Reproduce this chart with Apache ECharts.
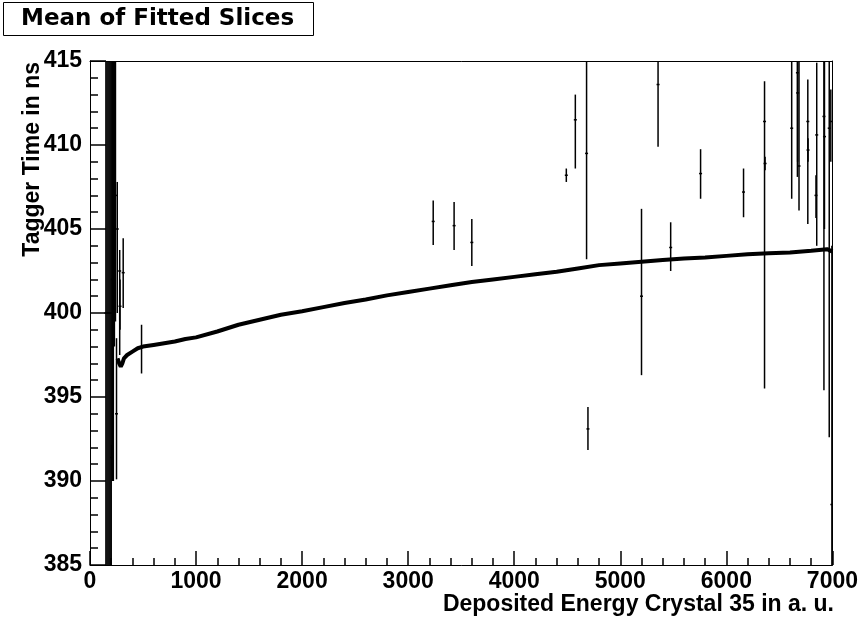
<!DOCTYPE html>
<html>
<head>
<meta charset="utf-8">
<script src="https://cdn.jsdelivr.net/npm/echarts@6/dist/echarts.min.js"></script>
<style>
  html, body { margin: 0; padding: 0; background: #fff; }
  #chart { width: 861px; height: 624px; }
</style>
</head>
<body>
<div id="chart"></div>
<script>
/* Mean of fitted slices: tagger time vs deposited energy (crystal 35).
   Values. */
const X_TICKS = [0, 1000, 2000, 3000, 4000, 5000, 6000, 7000];
const Y_TICKS = [385, 390, 395, 400, 405, 410, 415];

// main curve (energy, mean time)
const curveX = [260, 275, 290, 305, 320, 350, 400, 450, 500, 600, 700, 800, 900, 1000,
  1200, 1400, 1600, 1800, 2000, 2200, 2400, 2600, 2800, 3000, 3200, 3400, 3600, 3800,
  4000, 4200, 4400, 4600, 4800, 5000, 5200, 5400, 5600, 5800, 6000, 6200, 6400, 6600,
  6800, 6950, 7000];
const curveY = [397.3, 397.0, 396.8, 397.0, 397.3, 397.5, 397.7, 397.9, 398.0, 398.1,
  398.2, 398.3, 398.45, 398.55, 398.9, 399.3, 399.6, 399.9, 400.1, 400.35, 400.6, 400.8,
  401.05, 401.25, 401.45, 401.65, 401.85, 402.0, 402.15, 402.3, 402.45, 402.65, 402.85,
  402.95, 403.05, 403.15, 403.25, 403.3, 403.4, 403.5, 403.55, 403.6, 403.7, 403.8, 403.65];

// slices with large errors (energy, low, mean, high)
const barX   = [150, 160, 170, 180, 190, 200, 210, 220, 230, 240, 204, 250, 257, 280, 283, 313, 486,
  3236, 3433, 3600, 4491, 4576, 4682, 4695, 5200, 5356, 5475, 5757, 6162, 6360, 6365,
  6616, 6685, 6670, 6672, 6768, 6770, 6852, 6845, 6920, 6925, 6970, 6985, 6995];
const barLo  = [385, 385, 385, 385, 385, 385, 390, 390, 398, 399.5, 390.65, 390.1, 400.0, 397.5, 399.0, 400.3, 396.4,
  404.05, 403.75, 402.8, 407.8, 408.6, 403.2, 391.85, 396.3, 409.9, 402.5, 406.8, 405.7, 395.5, 408.5,
  406.8, 406.1, 408.1, 409.0, 405.3, 409.0, 404.0, 405.65, 395.4, 405.0, 392.6, 409.0, 385];
const barMid = [400, 400, 400, 400, 400, 400, 402, 402, 406, 407, 391.4, 394.0, 405.0, 402.5, 400.4, 402.4, 398.0,
  405.45, 405.2, 404.2, 408.2, 411.5, 409.5, 393.1, 401.0, 413.6, 403.9, 408.3, 407.2, 411.4, 408.9,
  411.0, 408.75, 414.3, 413.1, 411.4, 409.7, 410.6, 407.0, 411.7, 410.5, 411.0, 411.4, 388.6];
const barHi  = [415, 415, 415, 415, 415, 415, 415, 415, 415, 415, 392.15, 398.5, 407.8, 403.75, 402.0, 404.45, 399.3,
  406.7, 406.6, 405.6, 408.6, 413.0, 415, 394.4, 406.2, 415, 405.4, 409.75, 408.6, 413.8, 409.3,
  415, 415, 415, 415, 413.9, 410.4, 414.9, 408.2, 415, 415, 415, 413.3, 404.0];

const FONT = "'Liberation Sans', Arial, sans-serif";
const labelStyle = (margin) => ({ fontFamily: FONT, fontWeight: "bold", fontSize: 23, color: "#000", margin, formatter: (v) => String(v) });
// hex-coloured ticks did not show up in the snapshot; named colours did
const tickStyle = () => ({ color: "black", width: 1.5 });
// plain frame line for the top / right sides
const frameAxis = () => ({
  type: "value", axisLine: { show: true, onZero: false, lineStyle: { color: "#000", width: 1 } },
  axisTick: { show: false }, axisLabel: { show: false }, splitLine: { show: false },
});

const chart = echarts.init(document.getElementById("chart"), null, { renderer: "canvas" });
chart.setOption({
  animation: false,
  backgroundColor: "#fff",
  title: {
    text: "Mean of Fitted Slices", left: 3, top: 2,
    borderColor: "#000", borderWidth: 1, padding: [3, 20, 3, 18],
    textStyle: { fontFamily: "'DejaVu Sans', sans-serif", fontWeight: "bold", fontSize: 23, color: "#000", lineHeight: 28 },
  },
  grid: { left: 90, right: 27, top: 61, bottom: 59 },
  xAxis: [
    {
      type: "value", min: X_TICKS[0], max: X_TICKS[X_TICKS.length - 1], interval: 1000, position: "bottom",
      axisLine: { show: true, onZero: false, lineStyle: { color: "#000", width: 1 } },
      axisTick: { show: true, inside: true, length: 14, lineStyle: tickStyle() },
      minorTick: { show: true, splitNumber: 5, length: 7, lineStyle: tickStyle() },
      splitLine: { show: false },
      axisLabel: labelStyle(5),
    },
    Object.assign(frameAxis(), { position: "top", min: X_TICKS[0], max: X_TICKS[X_TICKS.length - 1] }),
  ],
  yAxis: [
    {
      type: "value", min: Y_TICKS[0], max: Y_TICKS[Y_TICKS.length - 1], interval: 5, position: "left",
      axisLine: { show: true, onZero: false, lineStyle: { color: "#000", width: 1 } },
      axisTick: { show: true, inside: true, length: 16, lineStyle: tickStyle() },
      minorTick: { show: true, splitNumber: 5, length: 8, lineStyle: tickStyle() },
      splitLine: { show: false },
      axisLabel: labelStyle(8),
    },
    Object.assign(frameAxis(), { position: "right", min: Y_TICKS[0], max: Y_TICKS[Y_TICKS.length - 1] }),
  ],
  graphic: [
    { type: "text", right: 27, top: 593,
      style: { text: "Deposited Energy Crystal 35 in a. u.", font: "bold 23px " + FONT, fill: "#000" } },
    { type: "text", x: 33, y: 62, rotation: Math.PI / 2,
      style: { text: "Tagger Time in ns", font: "bold 23px " + FONT, fill: "#000", align: "right", verticalAlign: "middle" } },
  ],
  series: [
    {
      type: "custom", clip: true, silent: true,
      data: barX.map((x, i) => [x, barLo[i], barMid[i], barHi[i]]),
      renderItem: (params, api) => {
        const lo = api.coord([api.value(0), api.value(1)]);
        const hi = api.coord([api.value(0), api.value(3)]);
        const mid = api.coord([api.value(0), api.value(2)]);
        return {
          type: "group",
          children: [
            { type: "line", shape: { x1: lo[0], y1: lo[1], x2: hi[0], y2: hi[1] }, style: { stroke: "#000", lineWidth: 1.5 } },
            { type: "line", shape: { x1: mid[0] - 1.5, y1: mid[1], x2: mid[0] + 1.5, y2: mid[1] }, style: { stroke: "#000", lineWidth: 1.5 } },
          ],
        };
      },
    },
    {
      type: "line", clip: true, silent: true, showSymbol: false, smooth: false,
      data: curveX.map((x, i) => [x, curveY[i]]),
      lineStyle: { color: "#000", width: 4 },
    },
  ],
});
</script>
</body>
</html>
